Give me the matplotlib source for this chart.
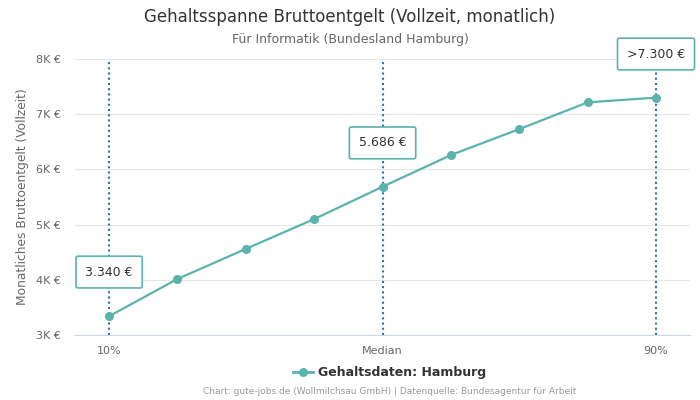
import matplotlib
matplotlib.use("Agg")
import matplotlib.pyplot as plt
from matplotlib.lines import Line2D

# salary curve, 10% .. 90% percentiles
positions = [0, 1, 2, 3, 4, 5, 6, 7, 8]
salaries = [3340, 4015, 4560, 5100, 5686, 6260, 6730, 7215, 7300]

tick_pos = [0, 4, 8]
tick_labels = ["10%", "Median", "90%"]

marked = [0, 4, 8]
marked_labels = ["3.340 €", "5.686 €", ">7.300 €"]
label_y = [4140, 6480, 8090]

yticks = [3000, 4000, 5000, 6000, 7000, 8000]
ytick_labels = ["3K €", "4K €", "5K €", "6K €", "7K €", "8K €"]

teal = "#5ab4ac"
blue = "#2a73ad"

fig = plt.figure(figsize=(7, 4), dpi=100)
ax = fig.add_axes([0.107, 0.1625, 0.879, 0.69])

for x in marked:
    ax.axvline(x, color=blue, lw=1.5, ls=(0, (1, 1.5)), zorder=1)

ax.plot(positions, salaries, color=teal, lw=1.6, marker="o", ms=5.5, zorder=3)

for x, txt, y in zip(marked, marked_labels, label_y):
    ax.text(x, y, txt, ha="center", va="center", fontsize=9, color="#333333", zorder=5,
            clip_on=False,
            bbox=dict(boxstyle="round,pad=0.75,rounding_size=0.15", fc="white", ec=teal, lw=1.2))

ax.set_xlim(-0.5, 8.5)
ax.set_ylim(3000, 8000)
ax.set_xticks(tick_pos)
ax.set_xticklabels(tick_labels, fontsize=8, color="#666666")
ax.set_yticks(yticks)
ax.set_yticklabels(ytick_labels, fontsize=8, color="#666666")
ax.tick_params(length=0, pad=8)
ax.tick_params(axis="y", pad=10)
ax.grid(axis="y", color="#e6e6e6", lw=0.8)
ax.set_axisbelow(True)
for s in ["top", "right", "left"]:
    ax.spines[s].set_visible(False)
ax.spines["bottom"].set_color("#ccd6eb")
ax.set_ylabel("Monatliches Bruttoentgelt (Vollzeit)", fontsize=8.8, color="#666666")
ax.yaxis.set_label_coords(-0.075, 0.5)

fig.text(0.5, 0.958, "Gehaltsspanne Bruttoentgelt (Vollzeit, monatlich)", ha="center", va="center",
         fontsize=12, color="#333333")
fig.text(0.5, 0.902, "Für Informatik (Bundesland Hamburg)", ha="center", va="center",
         fontsize=9, color="#666666")

handle = Line2D([], [], color=teal, marker="o", ms=5.5, lw=2)
fig.legend([handle], ["Gehaltsdaten: Hamburg"], loc="center", bbox_to_anchor=(0.557, 0.068),
           frameon=False, prop={"weight": "bold", "size": 9}, handlelength=1.6,
           handletextpad=0.4, labelcolor="#333333")

fig.text(0.557, 0.02, "Chart: gute-jobs.de (Wollmilchsau GmbH) | Datenquelle: Bundesagentur für Arbeit",
         ha="center", va="center", fontsize=6.5, color="#999999")

fig.savefig("out.png", dpi=100)
